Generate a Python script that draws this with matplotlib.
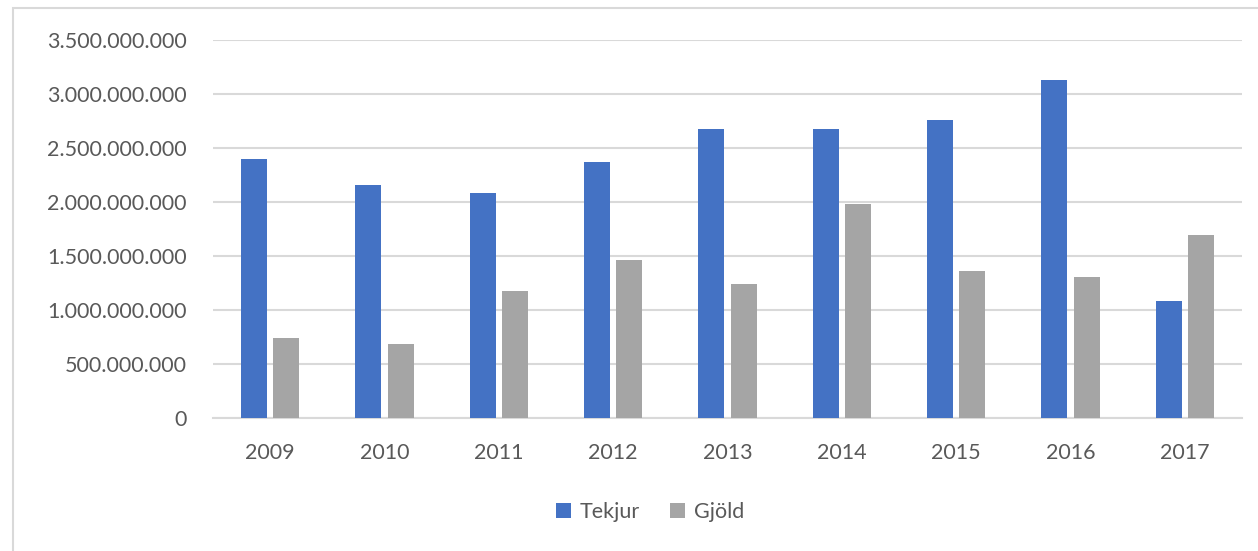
import matplotlib.pyplot as plt
import numpy as np
from matplotlib.patches import Rectangle

years = ['2009', '2010', '2011', '2012', '2013', '2014', '2015', '2016', '2017']
tekjur = [2.398e9, 2.157e9, 2.083e9, 2.370e9, 2.676e9, 2.680e9, 2.759e9, 3.128e9, 1.083e9]
gjold = [0.741e9, 0.685e9, 1.176e9, 1.463e9, 1.241e9, 1.981e9, 1.361e9, 1.306e9, 1.694e9]
yticks = [0, 0.5e9, 1.0e9, 1.5e9, 2.0e9, 2.5e9, 3.0e9, 3.5e9]

plt.rcParams['font.family'] = ['Lato', 'DejaVu Sans']
txt = '#595959'

fig = plt.figure(figsize=(12.58, 5.51), dpi=100)
ax = fig.add_axes([213/1258, 1 - 418/551, (1242-213)/1258, (418-40)/551])

x = np.arange(len(years))
w = 0.225
gap = 0.058
ax.bar(x - (w + gap)/2, tekjur, w, color='#4472C4', label='Tekjur', zorder=3)
ax.bar(x + (w + gap)/2, gjold, w, color='#A5A5A5', label='Gjöld', zorder=3)

ax.set_xlim(-0.5, len(years) - 0.5)
ax.set_ylim(0, 3.5e9)
ax.set_yticks(yticks)
ax.set_yticklabels([f'{int(v):,}'.replace(',', '.') for v in yticks])
ax.set_xticks(x)
ax.set_xticklabels(years)
ax.tick_params(axis='both', length=0, labelsize=15.5, colors=txt)
ax.tick_params(axis='y', pad=19)
ax.tick_params(axis='x', pad=18)
ax.yaxis.grid(True, color='#D9D9D9', linewidth=1.5, zorder=0)
for s in ['top', 'right', 'left']:
    ax.spines[s].set_visible(False)
ax.spines['bottom'].set_color('#D9D9D9')
ax.spines['bottom'].set_linewidth(1.5)

leg = fig.legend(loc='center', bbox_to_anchor=(650/1258, 1 - 512/551), ncol=2, frameon=False,
                 fontsize=15.5, handlelength=0.7, handleheight=0.7, handletextpad=0.4,
                 columnspacing=1.4)
for t in leg.get_texts():
    t.set_color(txt)

# outer chart frame
fig.patches.append(Rectangle((13/1258, -0.01), 1.1, 1 - 7.5/551 + 0.01, transform=fig.transFigure,
                             fill=False, edgecolor='#D9D9D9', linewidth=1.5))

fig.savefig('out.png', dpi=100)
